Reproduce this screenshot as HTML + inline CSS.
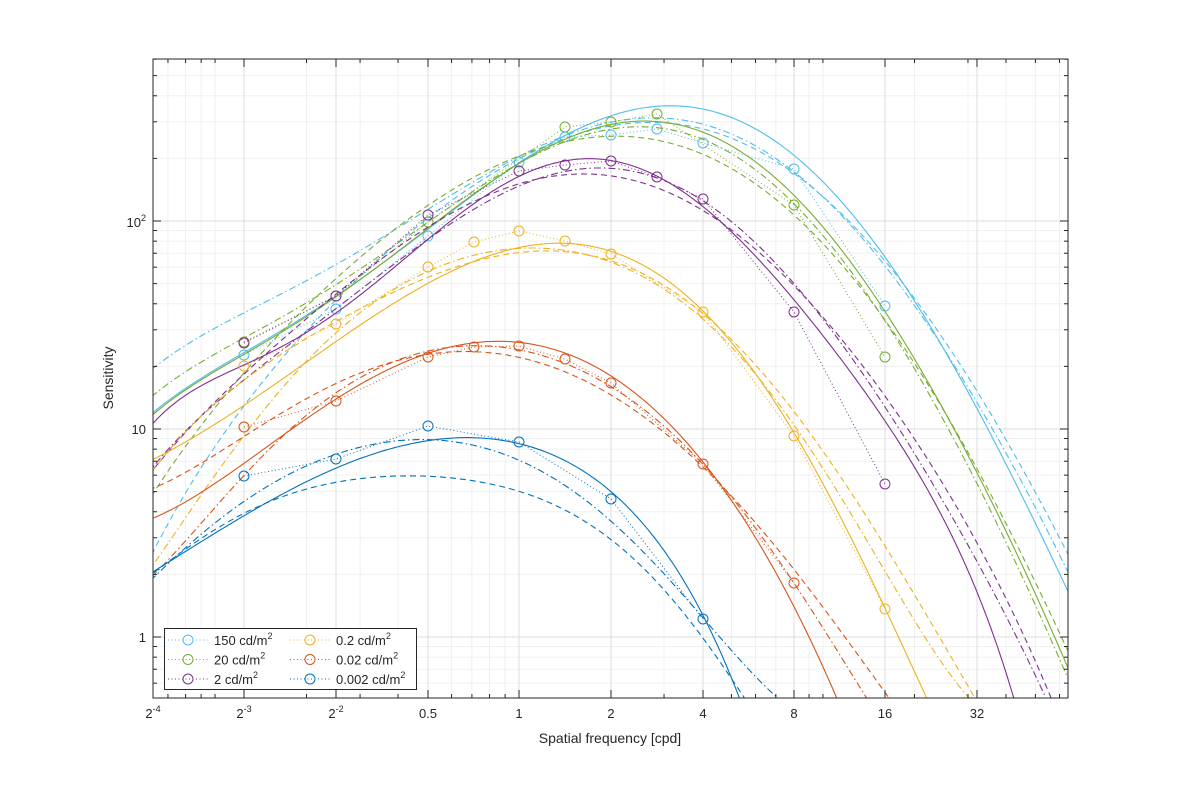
<!DOCTYPE html>
<html><head><meta charset="utf-8"><style>
html,body{margin:0;padding:0;background:#fff;}
svg text{font-family:"Liberation Sans","DejaVu Sans",sans-serif;fill:#262626;}
</style></head><body>
<svg id="s" width="1181" height="787" xmlns="http://www.w3.org/2000/svg">
<defs><clipPath id="cp"><rect x="153" y="59" width="915" height="639"/></clipPath></defs>
<rect width="1181" height="787" fill="#fff"/>
<g id="grid"></g>
<g id="curves" clip-path="url(#cp)"></g>
<rect x="153" y="59" width="915" height="639" fill="none" stroke="#262626" stroke-width="1"/>
<g id="ticks"></g>
<g font-size="13">
<text x="153" y="718" text-anchor="middle">2<tspan dy="-6" font-size="9">-4</tspan></text>
<text x="244" y="718" text-anchor="middle">2<tspan dy="-6" font-size="9">-3</tspan></text>
<text x="336" y="718" text-anchor="middle">2<tspan dy="-6" font-size="9">-2</tspan></text>
<text x="428" y="718" text-anchor="middle">0.5</text>
<text x="519" y="718" text-anchor="middle">1</text>
<text x="611" y="718" text-anchor="middle">2</text>
<text x="703" y="718" text-anchor="middle">4</text>
<text x="794" y="718" text-anchor="middle">8</text>
<text x="885" y="718" text-anchor="middle">16</text>
<text x="977" y="718" text-anchor="middle">32</text>
<text x="146" y="227" text-anchor="end">10<tspan dy="-6" font-size="9">2</tspan></text>
<text x="146" y="434" text-anchor="end">10</text>
<text x="146" y="642" text-anchor="end">1</text>
<text x="610" y="743" text-anchor="middle" font-size="14">Spatial frequency [cpd]</text>
<text transform="translate(113,378) rotate(-90)" text-anchor="middle" font-size="14">Sensitivity</text>
</g>
<g id="legend"></g>
</svg>
<script>
var NS="http://www.w3.org/2000/svg";
function el(p,t,a){var e=document.createElementNS(NS,t);for(var k in a)e.setAttribute(k,a[k]);p.appendChild(e);return e;}
var G=document.getElementById('grid'),T=document.getElementById('ticks'),C=document.getElementById('curves'),L=document.getElementById('legend');
function fx(f){return 519+91.5*Math.log2(f);}
function fy(v){return 637-208*Math.log10(v);}
var mx=[];for(var k=-2;k<=1;k++)for(var m=1;m<=9;m++){var f=m*Math.pow(10,k);var l=Math.log2(f);if(Math.abs(l-Math.round(l))<1e-6)continue;var x=fx(f);if(x>153.5&&x<1067.5)mx.push(x);}
mx.forEach(function(x){el(G,'line',{x1:x,x2:x,y1:59,y2:698,stroke:'#f0f0f0','stroke-width':1});el(T,'line',{x1:x,x2:x,y1:698,y2:694,stroke:'#262626'});el(T,'line',{x1:x,x2:x,y1:59,y2:63,stroke:'#262626'});});
var my=[];for(var k=-1;k<=2;k++)for(var m=2;m<=9;m++){var y=fy(m*Math.pow(10,k));if(y>59&&y<698)my.push(y);}
my.forEach(function(y){el(G,'line',{x1:153,x2:1068,y1:y,y2:y,stroke:'#f0f0f0'});el(T,'line',{x1:153,x2:157,y1:y,y2:y,stroke:'#262626'});el(T,'line',{x1:1068,x2:1064,y1:y,y2:y,stroke:'#262626'});});
[244,336,428,519,611,703,794,885,977].forEach(function(x){el(G,'line',{x1:x,x2:x,y1:59,y2:698,stroke:'#dcdcdc'});el(T,'line',{x1:x,x2:x,y1:698,y2:690,stroke:'#262626'});el(T,'line',{x1:x,x2:x,y1:59,y2:67,stroke:'#262626'});});
[221,429,637].forEach(function(y){el(G,'line',{x1:153,x2:1068,y1:y,y2:y,stroke:'#dcdcdc'});el(T,'line',{x1:153,x2:161,y1:y,y2:y,stroke:'#262626'});el(T,'line',{x1:1068,x2:1060,y1:y,y2:y,stroke:'#262626'});});
function pts(a){var r=[];for(var i=0;i<a.length;i+=2)r.push([a[i],a[i+1]]);return r;}
function solve(A,b){var n=b.length;for(var i=0;i<n;i++){var p=i;for(var j=i+1;j<n;j++)if(Math.abs(A[j][i])>Math.abs(A[p][i]))p=j;var t=A[i];A[i]=A[p];A[p]=t;t=b[i];b[i]=b[p];b[p]=t;for(var j=i+1;j<n;j++){var f=A[j][i]/A[i][i];for(var k=i;k<n;k++)A[j][k]-=f*A[i][k];b[j]-=f*b[i];}}var x=new Array(n);for(var i=n-1;i>=0;i--){var s=b[i];for(var k=i+1;k<n;k++)s-=A[i][k]*x[k];x[i]=s/A[i][i];}return x;}
function fitPath(p,deg){var n=deg+1,A=[],b=[];for(var i=0;i<n;i++){A.push(new Array(n).fill(0));b.push(0);}
 p.forEach(function(q){var u=(q[0]-600)/500,pw=[];for(var i=0;i<2*n;i++)pw.push(Math.pow(u,i));for(var i=0;i<n;i++){for(var j=0;j<n;j++)A[i][j]+=pw[i+j];b[i]+=pw[i]*q[1];}});
 var c=solve(A,b);var x0=p[0][0],x1=p[p.length-1][0],d='';
 for(var x=x0;x<=x1+0.01;x+=3){var u=(x-600)/500,y=0;for(var i=0;i<n;i++)y+=c[i]*Math.pow(u,i);d+=(d?' L':'M')+x.toFixed(1)+','+y.toFixed(1);}return d;}
var DASH={d:'6 4','dd':'7 3 1.5 3'};
var S=[
{c:'#4DBEEE',
 s:[130,431,153,416,244,354,336,290,428,233,519,165,565,135,611,118,667,102,703,105,794,160,885,257,977,408,1068,590,1090,640],
 d:[130,595,153,560,244,400,336,305,428,214,519,160,611,130,660,122,703,125,794,172,885,265,977,390,1068,552,1090,600],
 dd:[130,386,153,372,244,315,336,259,428,208,519,165,611,124,657,113,703,118,794,175,885,270,977,400,1068,570,1090,620],
 m:[244,355,336,309,428,236,519,162,565,137,611,135,657,129,703,143,794,169,885,306]},
{c:'#77AC30',
 s:[130,434,153,418,244,355,336,292,428,232,519,165,611,125,657,120,703,128,794,199,885,313,977,470,1068,670,1090,720],
 d:[130,530,153,495,244,370,336,283,428,203,519,155,611,136,703,158,794,212,885,320,977,470,1068,650,1090,700],
 dd:[130,414,153,399,244,338,336,282,428,222,519,168,611,128,703,135,794,205,885,325,977,480,1068,680,1090,730],
 m:[244,342,336,296,428,222,565,127,611,122,657,114,794,205,885,357]},
{c:'#7E2F8E',
 s:[130,448,153,432,244,366,336,305,428,240,519,185,611,166,657,172,703,194,794,299,885,440,977,570,1012,700,1030,760],
 d:[130,500,153,470,244,372,336,300,428,220,519,185,611,182,703,205,794,285,885,400,977,540,1050,697,1070,745],
 dd:[130,500,153,465,244,380,336,310,428,240,519,180,611,175,703,200,794,280,885,410,977,560,1045,697,1065,740],
 m:[244,343,336,296,428,215,519,171,565,165,611,161,657,177,703,199,794,312,885,484]},
{c:'#EDB120',
 s:[130,471,153,458,244,405,336,345,428,278,519,248,565,246,611,254,703,305,794,436,885,609,928,697,945,740],
 d:[130,505,153,470,244,382,336,318,428,280,519,252,611,262,703,310,794,415,885,545,975,697,990,725],
 dd:[130,600,153,560,244,440,336,330,428,270,519,250,611,265,703,315,794,425,885,575,977,697,990,725],
 m:[244,366,336,324,428,267,474,242,519,231,565,241,611,254,703,312,794,436,885,609]},
{c:'#D95319',
 s:[130,528,153,515,244,465,336,400,428,350,474,342,519,345,611,378,703,458,794,610,837,697,850,730],
 d:[130,498,153,485,244,440,336,380,428,355,519,360,611,392,703,468,794,570,890,697,900,715],
 dd:[130,600,153,570,244,480,336,390,428,350,519,352,611,387,703,462,794,585,867,697,880,720],
 m:[244,427,336,401,428,357,474,347,519,346,565,359,611,383,703,464,794,583]},
{c:'#0072BD',
 s:[130,586,153,572,244,515,336,470,428,438,474,437,519,447,611,490,703,615,738,697,750,725],
 d:[130,590,153,575,244,512,336,483,428,477,519,490,611,540,703,640,747,697,760,725],
 dd:[130,600,153,580,244,500,336,455,428,440,519,460,611,520,703,620,782,697,795,715],
 m:[244,476,336,459,428,426,519,442,611,499,703,619]}
];
S.forEach(function(o){
 ['s','d','dd'].forEach(function(k){var a={d:fitPath(pts(o[k]),6),fill:'none',stroke:o.c,'stroke-width':1.1};if(k!='s')a['stroke-dasharray']=DASH[k];el(C,'path',a);});
 var mp=pts(o.m);
 el(C,'polyline',{points:mp.map(function(p){return p.join(',')}).join(' '),fill:'none',stroke:o.c,'stroke-width':1,'stroke-dasharray':'1 2.5'});
 mp.forEach(function(p){el(C,'circle',{cx:p[0],cy:p[1],r:5,fill:'none',stroke:o.c,'stroke-width':1});});
});
el(L,'rect',{x:164.5,y:628.5,width:252,height:61,fill:'#fff',stroke:'#262626','stroke-width':1});
var labs=[['150',0,0],['20',0,1],['2',0,2],['0.2',1,0],['0.02',1,1],['0.002',1,2]];
labs.forEach(function(l,i){var x0=l[1]?290:168,y=640+l[2]*19.5;var c=S[i].c;
 el(L,'line',{x1:x0,x2:x0+40,y1:y,y2:y,stroke:c,'stroke-dasharray':'1 2.5'});
 el(L,'circle',{cx:x0+20,cy:y,r:5,fill:'none',stroke:c});
 var t=el(L,'text',{x:x0+46,y:y+5,'font-size':13});t.textContent=l[0]+' cd/m';
 var sp=el(t,'tspan',{dy:-6,'font-size':9});sp.textContent='2';
});
</script>
</body></html>
